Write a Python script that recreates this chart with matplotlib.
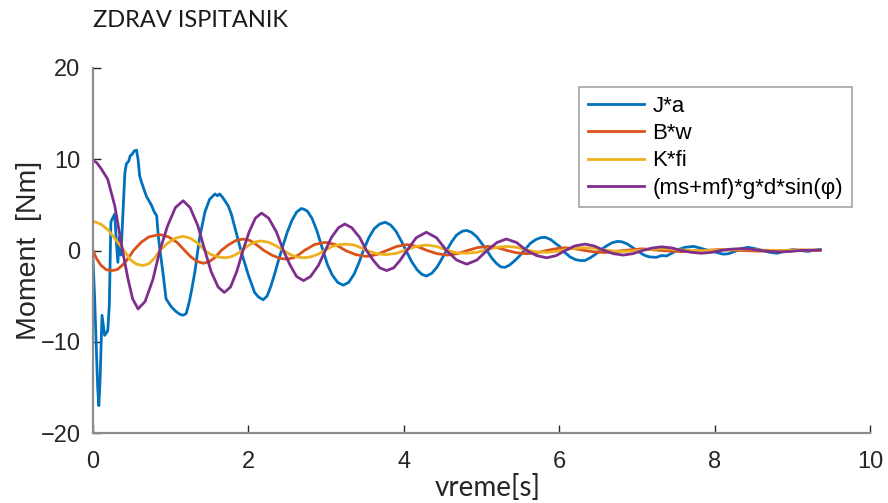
import matplotlib
matplotlib.use("Agg")
import matplotlib.pyplot as plt

# ---------------- data ----------------
t_ja = [0.00, 0.02, 0.04, 0.06, 0.075, 0.09, 0.116, 0.15, 0.19, 0.21, 0.23, 0.25, 0.28, 0.30,
        0.32, 0.34, 0.36, 0.38, 0.41, 0.43, 0.46, 0.48, 0.50, 0.53, 0.56, 0.58, 0.60, 0.62,
        0.66, 0.69, 0.75, 0.79, 0.82, 0.84, 0.87, 0.90, 0.94, 1.01, 1.07, 1.12, 1.16, 1.20,
        1.24, 1.27, 1.31, 1.37, 1.44, 1.50, 1.57, 1.60, 1.63, 1.67, 1.74, 1.78, 1.82, 1.91,
        2.00, 2.08, 2.13, 2.19, 2.24, 2.29, 2.34, 2.39, 2.44, 2.50, 2.56, 2.62, 2.68, 2.72,
        2.76, 2.82, 2.88, 2.96, 3.02, 3.08, 3.15, 3.22, 3.29, 3.36, 3.42, 3.48, 3.55, 3.62,
        3.69, 3.76, 3.83, 3.90, 3.97, 4.04, 4.10, 4.17, 4.23, 4.29, 4.36, 4.43, 4.49, 4.55,
        4.62, 4.68, 4.75, 4.81, 4.87, 4.94, 5.00, 5.07, 5.13, 5.19, 5.25, 5.30, 5.36, 5.43,
        5.50, 5.56, 5.63, 5.70, 5.76, 5.82, 5.89, 5.95, 6.01, 6.07, 6.14, 6.21, 6.27, 6.33,
        6.40, 6.47, 6.54, 6.61, 6.68, 6.75, 6.81, 6.88, 6.95, 7.02, 7.09, 7.16, 7.25, 7.32,
        7.38, 7.45, 7.53, 7.62, 7.73, 7.82, 7.92, 8.02, 8.11, 8.18, 8.26, 8.34, 8.43, 8.52,
        8.62, 8.71, 8.80, 8.90, 9.00, 9.10, 9.20, 9.30, 9.36]
v_ja = [-1.0, -5.0, -10.0, -15.0, -17.0, -14.5, -7.1, -9.3, -8.8, -6.0, 3.1, 3.5, 4.0, 1.0,
        -1.3, 1.5, -0.5, 3.0, 8.5, 9.5, 9.8, 10.4, 10.5, 10.9, 11.0, 10.0, 8.2, 7.6,
        6.6, 5.9, 5.0, 4.2, 3.8, 1.6, -0.5, -2.4, -5.3, -6.2, -6.7, -7.0, -7.1, -6.9,
        -5.6, -4.3, -2.4, 1.3, 4.2, 5.6, 6.2, 6.0, 6.2, 5.8, 4.9, 4.0, 2.7, -0.2,
        -2.7, -4.6, -5.1, -5.4, -5.0, -3.9, -2.5, -1.0, 0.4, 2.0, 3.3, 4.2, 4.6, 4.5,
        4.3, 3.5, 2.2, 0.0, -1.6, -2.7, -3.5, -3.8, -3.5, -2.6, -1.4, 0.0, 1.4, 2.4,
        2.9, 3.1, 2.8, 2.1, 1.0, -0.2, -1.2, -2.1, -2.6, -2.8, -2.5, -1.8, -0.9, 0.0,
        1.0, 1.7, 2.1, 2.2, 2.0, 1.5, 0.8, 0.0, -0.8, -1.4, -1.8, -1.85, -1.6, -1.1,
        -0.5, 0.1, 0.8, 1.2, 1.4, 1.45, 1.2, 0.8, 0.4, -0.2, -0.7, -1.0, -1.1, -1.1,
        -0.8, -0.4, 0.1, 0.5, 0.85, 1.0, 0.95, 0.7, 0.3, -0.1, -0.5, -0.7, -0.75, -0.55,
        -0.6, -0.3, 0.1, 0.35, 0.45, 0.25, 0.0, -0.2, -0.4, -0.35, -0.1, 0.2, 0.35, 0.2,
        0.0, -0.2, -0.3, -0.1, 0.1, 0.0, -0.1, 0.05, 0.1]

t_bw = [0.00, 0.04, 0.10, 0.17, 0.24, 0.31, 0.38, 0.45, 0.52, 0.62, 0.72, 0.86, 0.97, 1.08,
        1.18, 1.26, 1.34, 1.42, 1.50, 1.58, 1.65, 1.74, 1.84, 1.93, 2.02, 2.11, 2.20, 2.30,
        2.40, 2.49, 2.58, 2.65, 2.72, 2.85, 2.99, 3.12, 3.25, 3.38, 3.52, 3.65, 3.78, 3.91,
        4.04, 4.17, 4.30, 4.43, 4.56, 4.69, 4.82, 4.95, 5.08, 5.20, 5.33, 5.45, 5.58, 5.71,
        5.84, 5.96, 6.08, 6.20, 6.33, 6.45, 6.58, 6.70, 6.82, 7.07, 7.32, 7.57, 7.83, 8.08,
        8.33, 8.59, 8.85, 9.10, 9.36]
v_bw = [0.0, -0.8, -1.6, -2.1, -2.2, -2.1, -1.6, -0.9, 0.0, 0.9, 1.5, 1.75, 1.5, 0.9,
        0.0, -0.7, -1.2, -1.4, -1.2, -0.7, 0.0, 0.6, 1.1, 1.25, 1.1, 0.6, 0.0, -0.5,
        -0.85, -0.95, -0.8, -0.45, 0.0, 0.65, 0.9, 0.65, 0.0, -0.45, -0.65, -0.45, 0.0, 0.45,
        0.65, 0.45, 0.0, -0.35, -0.5, -0.35, 0.0, 0.32, 0.45, 0.32, 0.0, -0.25, -0.35, -0.25,
        0.0, 0.2, 0.3, 0.2, 0.0, -0.15, -0.22, -0.15, 0.0, 0.18, 0.0, -0.13, 0.0, 0.1,
        0.0, -0.07, 0.0, 0.05, 0.0]

t_kf = [0.00, 0.10, 0.20, 0.30, 0.40, 0.48, 0.56, 0.64, 0.72, 0.79, 0.86, 0.96, 1.06, 1.16,
        1.25, 1.35, 1.44, 1.52, 1.61, 1.69, 1.77, 1.85, 1.93, 2.01, 2.09, 2.16, 2.26, 2.36,
        2.45, 2.54, 2.62, 2.71, 2.80, 2.90, 2.99, 3.08, 3.17, 3.26, 3.36, 3.45, 3.52, 3.65,
        3.78, 3.91, 4.04, 4.16, 4.29, 4.42, 4.55, 4.68, 4.81, 4.94, 5.07, 5.20, 5.32, 5.45,
        5.58, 5.71, 5.84, 5.96, 6.08, 6.20, 6.33, 6.45, 6.58, 6.70, 6.82, 6.95, 7.07, 7.20,
        7.32, 7.45, 7.57, 7.83, 8.08, 8.33, 8.59, 8.85, 9.10, 9.36]
v_kf = [3.2, 2.9, 2.2, 1.1, 0.0, -1.0, -1.5, -1.65, -1.45, -0.85, 0.0, 0.8, 1.35, 1.55,
        1.35, 0.8, 0.0, -0.45, -0.7, -0.8, -0.7, -0.4, 0.1, 0.6, 0.95, 1.05, 0.9, 0.5,
        0.0, -0.45, -0.7, -0.8, -0.7, -0.4, 0.05, 0.45, 0.65, 0.7, 0.6, 0.3, 0.0, -0.35,
        -0.45, -0.3, 0.1, 0.45, 0.6, 0.45, 0.05, -0.25, -0.3, -0.2, 0.1, 0.35, 0.45, 0.35,
        0.05, -0.15, -0.2, -0.1, 0.1, 0.25, 0.3, 0.25, 0.05, -0.05, -0.1, -0.05, 0.05, 0.15,
        0.2, 0.15, 0.05, -0.05, 0.05, 0.12, 0.05, 0.0, 0.05, 0.05]

t_mg = [0.00, 0.05, 0.11, 0.19, 0.28, 0.38, 0.45, 0.51, 0.58, 0.67, 0.77, 0.86, 0.96, 1.06,
        1.16, 1.25, 1.35, 1.44, 1.52, 1.61, 1.69, 1.77, 1.85, 1.93, 2.01, 2.09, 2.17, 2.26,
        2.36, 2.45, 2.54, 2.62, 2.71, 2.80, 2.90, 2.99, 3.07, 3.16, 3.24, 3.33, 3.43, 3.52,
        3.61, 3.69, 3.78, 3.87, 3.95, 4.04, 4.16, 4.29, 4.42, 4.55, 4.68, 4.81, 4.94, 5.07,
        5.20, 5.32, 5.45, 5.58, 5.71, 5.84, 5.96, 6.08, 6.20, 6.33, 6.45, 6.58, 6.70, 6.82,
        6.95, 7.07, 7.20, 7.32, 7.45, 7.57, 7.70, 7.83, 7.96, 8.08, 8.20, 8.33, 8.46, 8.59,
        8.72, 8.85, 8.98, 9.10, 9.36]
v_mg = [9.9, 9.6, 8.9, 7.8, 4.9, 0.0, -3.1, -5.3, -6.4, -5.6, -3.2, 0.0, 2.7, 4.7,
        5.45, 4.7, 2.7, 0.0, -2.3, -4.0, -4.6, -4.0, -2.3, 0.0, 2.05, 3.55, 4.1, 3.55,
        2.05, 0.0, -1.65, -2.85, -3.3, -2.85, -1.65, 0.0, 1.45, 2.5, 2.9, 2.5, 1.45, 0.0,
        -1.1, -1.9, -2.2, -1.9, -1.1, 0.0, 1.4, 2.0, 1.4, 0.0, -1.05, -1.5, -1.05, 0.0,
        0.88, 1.26, 0.88, 0.0, -0.56, -0.8, -0.56, 0.0, 0.5, 0.7, 0.5, 0.0, -0.35, -0.5,
        -0.35, 0.0, 0.28, 0.4, 0.28, 0.0, -0.2, -0.3, -0.2, 0.0, 0.14, 0.2, 0.14, 0.0,
        -0.1, -0.15, -0.1, 0.0, 0.05]

labels = ["J*a", "B*w", "K*fi", "(ms+mf)*g*d*sin(\u03c6)"]
colors = ["#0072BD", "#D95319", "#EDB120", "#7E2F8E"]
x_ticks = [0, 2, 4, 6, 8, 10]
y_ticks = [-20, -10, 0, 10, 20]

# ---------------- figure ----------------
plt.rcParams["font.family"] = ["Liberation Sans", "DejaVu Sans"]
plt.rcParams["axes.unicode_minus"] = True

fig = plt.figure(figsize=(8.88, 5.03), dpi=100)
ax = fig.add_axes([93 / 888, 1 - 433 / 503, (870 - 93) / 888, (433 - 68) / 503])

series = [(t_ja, v_ja), (t_bw, v_bw), (t_kf, v_kf), (t_mg, v_mg)]
for (tt, vv), lab, col in zip(series, labels, colors):
    ax.plot(tt, vv, color=col, lw=2.0, label=lab)

ax.set_xlim(0, 10)
ax.set_ylim(-20, 20)
ax.set_xticks(x_ticks)
ax.set_yticks(y_ticks)

for s in ["top", "right"]:
    ax.spines[s].set_visible(False)
for s in ["left", "bottom"]:
    ax.spines[s].set_color("#8c8c8c")
    ax.spines[s].set_linewidth(1.6)
ax.tick_params(direction="in", length=6, width=1.0, color="#262626",
               labelsize=17, labelcolor="#262626")
ax.tick_params(axis="x", pad=13)
ax.tick_params(axis="y", pad=9)

leg = ax.legend(loc="upper right", bbox_to_anchor=(0.977, 0.948), borderaxespad=0.0,
                frameon=True, fancybox=False, handlelength=2.5, handletextpad=0.4,
                labelspacing=0.28, borderpad=0.4,
                prop={"family": ["Liberation Sans", "DejaVu Sans"], "size": 16})
leg.get_frame().set_edgecolor("#8c8c8c")
leg.get_frame().set_linewidth(1.2)

fig.text(93 / 888, 1 - 27 / 503, "ZDRAV ISPITANIK", fontsize=17, family=["Lato", "DejaVu Sans"],
         ha="left", va="baseline", color="#1a1a1a")
fig.text(488 / 888, 1 - 487 / 503, "vreme[s]", fontsize=20, family=["Lato", "DejaVu Sans"],
         ha="center", va="center", color="#262626")
fig.text(29 / 888, 1 - 250 / 503, "Moment  [Nm]", fontsize=20.5, rotation=90,
         ha="center", va="center", color="#262626")

fig.savefig("out.png", dpi=100)
